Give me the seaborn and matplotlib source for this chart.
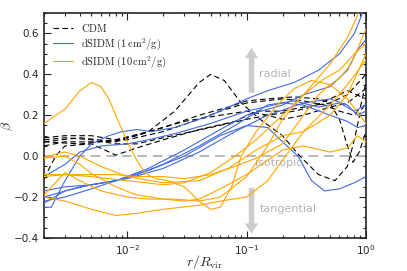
"""Velocity anisotropy profiles beta(r) for CDM and dSIDM haloes."""

import matplotlib

matplotlib.use("Agg")
import matplotlib.pyplot as plt
import numpy as np
import pandas as pd
import seaborn as sns
from matplotlib.lines import Line2D
from matplotlib.ticker import MultipleLocator

# --- data (r / R_vir, beta) ---
cdm_curves = [
    ([0.002, 0.004, 0.008, 0.015, 0.025, 0.04, 0.05, 0.065, 0.09, 0.13, 0.2, 0.28, 0.4, 0.55, 0.7, 0.8, 0.9, 1.0],
     [0.07, 0.09, 0.07, 0.12, 0.22, 0.36, 0.40, 0.37, 0.26, 0.18, 0.10, 0.0, -0.09, -0.12, -0.05, 0.08, 0.22, 0.26]),
    ([0.002, 0.003, 0.005, 0.008, 0.012, 0.02, 0.04, 0.07, 0.1, 0.15, 0.25, 0.4, 0.5, 0.6, 0.7, 0.78, 0.88, 1.0],
     [0.09, 0.10, 0.10, 0.08, 0.10, 0.14, 0.20, 0.24, 0.27, 0.28, 0.29, 0.28, 0.26, 0.18, 0.05, -0.03, 0.02, 0.12]),
    ([0.002, 0.0025, 0.003, 0.005, 0.008, 0.012, 0.02, 0.04, 0.08, 0.12, 0.2, 0.3, 0.5, 0.7, 1.0],
     [-0.11, 0.0, 0.05, 0.06, 0.005, 0.04, 0.08, 0.13, 0.17, 0.22, 0.22, 0.24, 0.26, 0.30, 0.40]),
    ([0.002, 0.003, 0.005, 0.008, 0.015, 0.03, 0.06, 0.1, 0.15, 0.2, 0.3, 0.5, 0.7, 1.0],
     [0.05, 0.07, 0.07, 0.08, 0.12, 0.17, 0.20, 0.22, 0.20, 0.18, 0.20, 0.24, 0.26, 0.33]),
    ([0.002, 0.004, 0.006, 0.01, 0.02, 0.04, 0.06, 0.1, 0.2, 0.3, 0.45, 0.6, 0.8, 0.9, 1.0],
     [0.07, 0.06, 0.07, 0.08, 0.12, 0.18, 0.22, 0.26, 0.28, 0.27, 0.25, 0.22, 0.20, 0.24, 0.36]),
    ([0.002, 0.003, 0.005, 0.008, 0.012, 0.02, 0.05, 0.1, 0.15, 0.25, 0.35, 0.5, 0.7, 1.0],
     [0.08, 0.09, 0.08, 0.06, 0.06, 0.09, 0.14, 0.18, 0.20, 0.22, 0.24, 0.28, 0.32, 0.28]),
]

sidm1_curves = [
    ([0.002, 0.0023, 0.003, 0.004, 0.005, 0.007, 0.009, 0.012, 0.016, 0.025, 0.05, 0.1, 0.15, 0.25, 0.4, 0.6, 0.8, 1.0],
     [-0.25, -0.25, -0.12, 0.0, 0.06, 0.10, 0.12, 0.13, 0.12, 0.14, 0.20, 0.28, 0.32, 0.36, 0.42, 0.50, 0.60, 0.74]),
    ([0.002, 0.003, 0.004, 0.006, 0.01, 0.015, 0.025, 0.05, 0.1, 0.2, 0.3, 0.5, 0.7, 0.85, 1.0],
     [-0.10, -0.04, 0.02, 0.05, 0.06, 0.08, 0.11, 0.16, 0.22, 0.26, 0.25, 0.20, 0.17, 0.14, 0.15]),
    ([0.002, 0.003, 0.005, 0.008, 0.012, 0.02, 0.04, 0.08, 0.15, 0.25, 0.4, 0.6, 0.8, 1.0],
     [-0.17, -0.15, -0.14, -0.12, -0.09, -0.04, 0.05, 0.15, 0.25, 0.27, 0.24, 0.26, 0.22, 0.25]),
    ([0.002, 0.004, 0.008, 0.015, 0.03, 0.06, 0.1, 0.15, 0.2, 0.27, 0.35, 0.45, 0.6, 0.8, 1.0],
     [-0.20, -0.15, -0.12, -0.07, 0.0, 0.10, 0.15, 0.14, 0.07, 0.0, -0.12, -0.17, -0.16, -0.13, -0.10]),
    ([0.002, 0.003, 0.005, 0.008, 0.015, 0.03, 0.06, 0.1, 0.2, 0.3, 0.5, 0.7, 0.85, 1.0],
     [-0.22, -0.20, -0.16, -0.12, -0.06, 0.03, 0.13, 0.20, 0.25, 0.30, 0.34, 0.42, 0.52, 0.57]),
    ([0.002, 0.003, 0.005, 0.01, 0.02, 0.04, 0.08, 0.15, 0.3, 0.5, 0.7, 0.85, 1.0],
     [-0.23, -0.17, -0.14, -0.11, -0.06, 0.02, 0.12, 0.20, 0.26, 0.28, 0.25, 0.20, 0.22]),
]

sidm10_curves = [
    ([0.002, 0.003, 0.004, 0.005, 0.006, 0.007, 0.008, 0.01, 0.012, 0.014, 0.017, 0.022, 0.03, 0.04, 0.05, 0.06,
      0.075, 0.09, 0.12, 0.18, 0.25, 0.35, 0.5, 0.7, 1.0],
     [0.16, 0.23, 0.32, 0.36, 0.34, 0.28, 0.20, 0.07, -0.02, -0.08, -0.11, -0.12, -0.15, -0.22, -0.26, -0.25,
      -0.15, 0.0, 0.12, 0.25, 0.33, 0.37, 0.35, 0.28, 0.16]),
    ([0.002, 0.003, 0.004, 0.005, 0.008, 0.012, 0.02, 0.03, 0.04, 0.06, 0.1, 0.15, 0.2, 0.3, 0.5, 0.7, 0.85, 1.0],
     [-0.01, 0.0, -0.04, -0.085, -0.15, -0.19, -0.21, -0.22, -0.21, -0.16, -0.09, -0.02, 0.03, 0.05, 0.02, 0.04, 0.10, 0.07]),
    ([0.002, 0.003, 0.005, 0.008, 0.012, 0.02, 0.03, 0.05, 0.08, 0.12, 0.2, 0.3, 0.4, 0.5, 0.6, 0.75, 1.0],
     [-0.09, -0.09, -0.09, -0.09, -0.10, -0.10, -0.11, -0.09, -0.05, -0.01, 0.06, 0.20, 0.30, 0.35, 0.38, 0.45, 0.62]),
    ([0.002, 0.003, 0.004, 0.006, 0.01, 0.015, 0.025, 0.04, 0.06, 0.1, 0.15, 0.2, 0.3, 0.5, 0.7, 0.9],
     [-0.19, -0.08, -0.12, -0.17, -0.20, -0.21, -0.21, -0.22, -0.20, -0.10, 0.05, 0.18, 0.30, 0.45, 0.58, 0.72]),
    ([0.002, 0.003, 0.005, 0.008, 0.012, 0.02, 0.04, 0.06, 0.1, 0.15, 0.2, 0.3, 0.5, 0.7, 1.0],
     [-0.20, -0.22, -0.26, -0.29, -0.28, -0.26, -0.24, -0.22, -0.20, -0.12, -0.02, 0.12, 0.25, 0.35, 0.47]),
    ([0.002, 0.003, 0.005, 0.01, 0.02, 0.03, 0.05, 0.08, 0.12, 0.2, 0.3, 0.45, 0.6, 0.8, 1.0],
     [-0.10, -0.09, -0.10, -0.12, -0.14, -0.13, -0.08, 0.0, 0.08, 0.20, 0.30, 0.38, 0.42, 0.50, 0.55]),
    ([0.002, 0.0025, 0.003, 0.004, 0.006, 0.01, 0.02, 0.04, 0.07, 0.12, 0.2, 0.3, 0.5, 0.7, 1.0],
     [-0.01, 0.01, 0.02, 0.0, -0.05, -0.10, -0.13, -0.12, -0.06, 0.03, 0.10, 0.12, 0.20, 0.30, 0.50]),
]

model_names = ["CDM", "dSIDM1", "dSIDM10"]
model_labels = [
    r"$\mathrm{CDM}$",
    r"$\mathrm{dSIDM}\ (1\,\mathrm{cm}^2/\mathrm{g})$",
    r"$\mathrm{dSIDM}\ (10\,\mathrm{cm}^2/\mathrm{g})$",
]
model_colors = ["black", "royalblue", "orange"]

rows = []
for name, curves in zip(model_names, [cdm_curves, sidm1_curves, sidm10_curves]):
    for i, (r, beta) in enumerate(curves):
        for rv, bv in zip(r, beta):
            rows.append({"r": rv, "beta": bv, "model": name, "halo": f"{name}_{i}"})
df = pd.DataFrame(rows)

sns.set_style("ticks")
plt.rcParams["mathtext.fontset"] = "dejavusans"

fig, ax = plt.subplots(figsize=(4.07, 2.71), dpi=100)
fig.subplots_adjust(left=0.108, right=0.899, bottom=0.122, top=0.952)
ax.set_xscale("log")

ax.axhline(0.0, color="0.72", lw=1.4, ls=(0, (5, 3)), zorder=1)

palette = dict(zip(model_names, model_colors))
dashes = {"CDM": (5, 3), "dSIDM1": "", "dSIDM10": ""}
sns.lineplot(
    data=df, x="r", y="beta", hue="model", style="model", units="halo",
    estimator=None, sort=False, palette=palette, dashes=dashes,
    linewidth=0.8, legend=False, ax=ax, zorder=3,
)

# direction arrows and labels
arrow_kw = dict(width=4.0, headwidth=9.5, headlength=7.5, color="0.8", lw=0)
ax.annotate("", xy=(0.11, 0.53), xytext=(0.11, 0.31), arrowprops=arrow_kw, zorder=2)
ax.annotate("", xy=(0.11, -0.38), xytext=(0.11, -0.155), arrowprops=arrow_kw, zorder=2)
ax.text(0.128, 0.40, "radial", color="0.7", fontsize=8, va="center", zorder=2)
ax.text(0.128, -0.26, "tangential", color="0.7", fontsize=8, va="center", zorder=2)
ax.text(0.118, -0.035, "isotropic", color="0.7", fontsize=8, va="center", zorder=2)

ax.set_xlim(0.002, 1.0)
ax.set_ylim(-0.4, 0.7)
ax.yaxis.set_major_locator(MultipleLocator(0.2))
ax.yaxis.set_minor_locator(MultipleLocator(0.05))
ax.tick_params(which="both", direction="in", top=True, right=True, labelsize=7.5, width=0.8)
ax.tick_params(which="major", length=5)
ax.tick_params(which="minor", length=2.5)
for s in ax.spines.values():
    s.set_linewidth(1.2)

ax.set_xlabel(r"$r/R_{\rm vir}$", fontsize=10, math_fontfamily="cm")
ax.set_ylabel(r"$\beta$", fontsize=10, math_fontfamily="cm")
ax.xaxis.set_label_coords(0.5, -0.065)
ax.yaxis.set_label_coords(-0.09, 0.5)

handles = [
    Line2D([], [], color=c, lw=0.8, dashes=(5, 3) if n == "CDM" else (None, None))
    for n, c in zip(model_names, model_colors)
]
leg = ax.legend(handles, model_labels, loc="upper left", frameon=False, fontsize=7.5,
                handlelength=1.9, handletextpad=0.8, labelspacing=0.2,
                borderaxespad=0.45)
for t in leg.get_texts():
    t.set_math_fontfamily("cm")

fig.savefig("out.png", dpi=100)
plt.close(fig)
